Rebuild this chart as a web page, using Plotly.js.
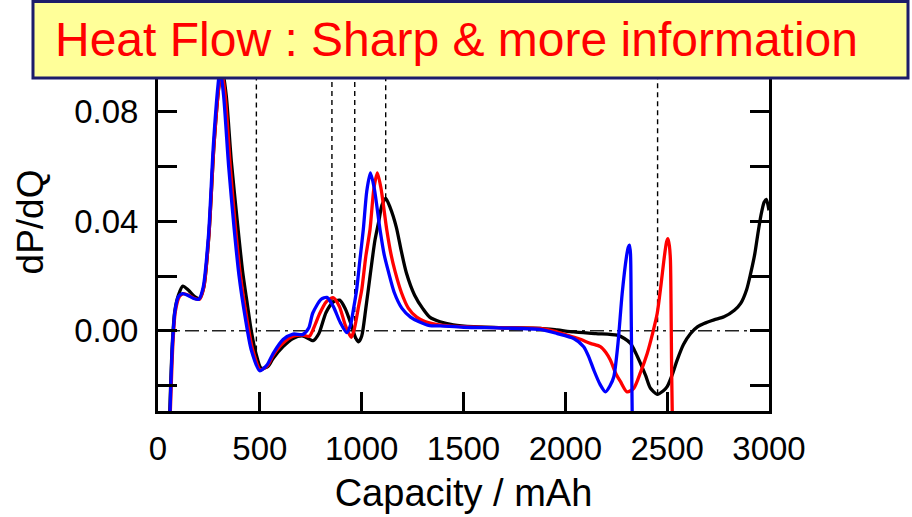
<!DOCTYPE html>
<html>
<head>
<meta charset="utf-8">
<script src="https://cdn.plot.ly/plotly-3.0.1.min.js"></script>
<style>html,body{margin:0;padding:0;background:#fff;}#chart{width:912px;height:517px;}</style>
</head>
<body>
<div id="chart"></div>
<script>
// ---- data ----
const titleText = "Heat Flow : Sharp & more information";
const xTitle = "Capacity / mAh";
const yTitle = "dP/dQ";

const xTickVals = [0, 500, 1000, 1500, 2000, 2500, 3000];
const xTickText = ["0", "500", "1000", "1500", "2000", "2500", "3000"];
const yTickVals = [-0.02, 0.00, 0.02, 0.04, 0.06, 0.08, 0.10];
const yTickText = ["", "0.00", "", "0.04", "", "0.08", ""];

const blackX = [55, 62, 70, 82, 100, 122, 150, 180, 204, 225, 250, 275, 300, 315, 335, 360, 392, 415, 440, 458, 480, 507, 540, 565, 614, 663, 712, 762, 790, 825, 860, 892, 920, 950, 970, 985, 1000, 1020, 1043, 1065, 1084, 1100, 1118, 1140, 1170, 1195, 1219, 1260, 1301, 1334, 1385, 1450, 1549, 1700, 1877, 1960, 2041, 2150, 2254, 2290, 2320, 2345, 2369, 2395, 2418, 2451, 2480, 2500, 2525, 2549, 2580, 2615, 2650, 2681, 2730, 2779, 2830, 2861, 2890, 2910, 2930, 2943, 2960, 2976, 2987, 3000];
const blackY = [-0.035, -0.02, -0.005, 0.007, 0.013, 0.0163, 0.0148, 0.0125, 0.0118, 0.016, 0.035, 0.068, 0.09, 0.096, 0.086, 0.062, 0.038, 0.022, 0.009, 0.0, -0.008, -0.0137, -0.013, -0.0101, -0.0058, -0.0028, -0.0019, -0.0036, -0.001, 0.0067, 0.0105, 0.0112, 0.008, 0.002, -0.0025, -0.004, -0.002, 0.008, 0.021, 0.033, 0.040, 0.046, 0.0484, 0.045, 0.0379, 0.029, 0.0213, 0.013, 0.008, 0.005, 0.0033, 0.0022, 0.0015, 0.0011, 0.0009, 0.0003, -0.0004, -0.001, -0.0016, -0.0028, -0.0046, -0.008, -0.0119, -0.0165, -0.021, -0.0232, -0.022, -0.0204, -0.016, -0.0107, -0.005, -0.001, 0.0015, 0.0027, 0.004, 0.0051, 0.0075, 0.010, 0.015, 0.021, 0.028, 0.0343, 0.042, 0.047, 0.048, 0.044];

const redX = [58, 65, 73, 85, 105, 125, 150, 180, 204, 225, 250, 275, 300, 312, 330, 355, 380, 405, 435, 465, 503, 540, 565, 614, 663, 712, 743, 770, 792, 825, 859, 890, 920, 949, 965, 985, 1000, 1020, 1041, 1060, 1077, 1095, 1123, 1144, 1164, 1195, 1229, 1270, 1311, 1400, 1500, 1700, 1877, 1950, 2008, 2070, 2123, 2172, 2200, 2221, 2250, 2271, 2303, 2336, 2370, 2402, 2430, 2451, 2470, 2484, 2497, 2504, 2511, 2516, 2519, 2522, 2526];
const redY = [-0.035, -0.02, -0.005, 0.007, 0.0125, 0.0136, 0.013, 0.0118, 0.0115, 0.016, 0.035, 0.068, 0.09, 0.096, 0.086, 0.06, 0.038, 0.02, 0.005, -0.007, -0.0143, -0.0125, -0.009, -0.0045, -0.002, -0.0016, -0.002, 0.002, 0.006, 0.0105, 0.0121, 0.009, 0.002, -0.0024, 0.001, 0.009, 0.0148, 0.027, 0.037, 0.052, 0.0577, 0.052, 0.037, 0.028, 0.0217, 0.014, 0.0083, 0.005, 0.0034, 0.002, 0.0015, 0.0011, 0.0009, -0.0002, -0.0016, -0.003, -0.0046, -0.0058, -0.008, -0.0107, -0.016, -0.0186, -0.0223, -0.021, -0.015, -0.0083, -0.0005, 0.0063, 0.017, 0.0258, 0.0325, 0.0337, 0.031, 0.0258, 0.01, -0.015, -0.035];

const blueX = [57, 63, 71, 83, 100, 120, 145, 175, 200, 222, 248, 272, 295, 305, 322, 347, 373, 398, 428, 458, 499, 535, 565, 614, 663, 712, 740, 760, 801, 829, 860, 895, 927, 945, 960, 975, 990, 1008, 1025, 1043, 1062, 1090, 1110, 1131, 1160, 1197, 1240, 1279, 1334, 1385, 1500, 1700, 1877, 1960, 2041, 2090, 2115, 2140, 2170, 2197, 2220, 2238, 2258, 2279, 2300, 2309, 2315, 2320, 2323, 2326, 2329];
const blueY = [-0.035, -0.02, -0.005, 0.007, 0.0125, 0.0136, 0.013, 0.0118, 0.0115, 0.016, 0.035, 0.068, 0.09, 0.096, 0.086, 0.06, 0.038, 0.02, 0.005, -0.007, -0.0146, -0.0125, -0.0083, -0.0032, -0.0012, -0.0013, 0.001, 0.0065, 0.0115, 0.0122, 0.009, 0.003, -0.0007, 0.002, 0.008, 0.0148, 0.025, 0.037, 0.051, 0.0577, 0.052, 0.037, 0.028, 0.0217, 0.014, 0.0083, 0.005, 0.0034, 0.0019, 0.0018, 0.0013, 0.001, 0.0005, -0.001, -0.0028, -0.0058, -0.0095, -0.0144, -0.0195, -0.0223, -0.02, -0.0168, -0.005, 0.0136, 0.027, 0.0305, 0.0313, 0.028, 0.01, -0.015, -0.035];

// dashed guide lines: capacity and the value of the black curve where they end
const guideX = [483, 854, 966, 1118, 2453];
const guideY = [-0.0105, 0.0102, -0.003, 0.0484, -0.0232];

const yRange = [-0.0293, 0.1088];
const xRange = [0, 3000];

// ---- traces ----
function curve(x, y, color) {
  return {
    type: 'scatter', mode: 'lines', x: x, y: y,
    line: {color: color, width: 3.3, shape: 'spline', smoothing: 0.7},
    hoverinfo: 'skip', showlegend: false
  };
}

const traces = [
  curve(blackX, blackY, '#000000'),
  curve(redX, redY, '#ff0000'),
  curve(blueX, blueY, '#0000ff')
];

const shapes = [];
// zero line (dash-dot)
shapes.push({type: 'line', xref: 'paper', yref: 'y', x0: 0, x1: 1, y0: 0, y1: 0,
  line: {color: '#222222', width: 1.5, dash: '14px,5px,3px,5px'}, layer: 'below'});
// dashed guides
guideX.forEach((gx, i) => {
  shapes.push({type: 'line', xref: 'x', yref: 'y', x0: gx, x1: gx, y0: guideY[i], y1: yRange[1],
    line: {color: '#000000', width: 1.4, dash: '5px,4px'}, layer: 'below'});
});
// title box
shapes.push({type: 'rect', xref: 'paper', yref: 'paper',
  x0: -0.2046, x1: 1.2275, y0: 0.881, y1: 1.0833,
  fillcolor: '#ffff99', line: {color: '#1c1c6a', width: 3}, layer: 'above'});

const fam = 'Arial, "Liberation Sans", sans-serif';
const axisFont = {family: fam, size: 33, color: '#000000'};

const layout = {
  width: 912, height: 517,
  margin: {l: 158, r: 143, t: 33, b: 106, pad: 0},
  paper_bgcolor: '#ffffff', plot_bgcolor: '#ffffff',
  title: {
    text: titleText, xref: 'container', yref: 'container',
    x: 55 / 912, xanchor: 'left', y: 1 - 39 / 517, yanchor: 'middle',
    font: {family: fam, size: 48, color: '#ff0000'}
  },
  xaxis: {
    range: xRange, tickmode: 'array', tickvals: xTickVals, ticktext: xTickText,
    ticks: 'inside', ticklen: 19, tickwidth: 3, tickcolor: '#000',
    showline: true, linewidth: 3, linecolor: '#000', mirror: 'ticks',
    showgrid: false, zeroline: false, tickfont: axisFont, ticklabelstandoff: 6,
    title: {text: xTitle, font: {family: fam, size: 38, color: '#000'}, standoff: 14}
  },
  yaxis: {
    range: yRange, tickmode: 'array', tickvals: yTickVals, ticktext: yTickText,
    ticks: 'inside', ticklen: 19, tickwidth: 3, tickcolor: '#000',
    showline: true, linewidth: 3, linecolor: '#000', mirror: 'ticks',
    showgrid: false, zeroline: false, tickfont: axisFont, ticklabelstandoff: 10,
    title: {text: yTitle, font: {family: fam, size: 37, color: '#000'}, standoff: 20}
  },
  shapes: shapes,
  showlegend: false
};

Plotly.newPlot('chart', traces, layout, {staticPlot: true, displayModeBar: false});
</script>
</body>
</html>
